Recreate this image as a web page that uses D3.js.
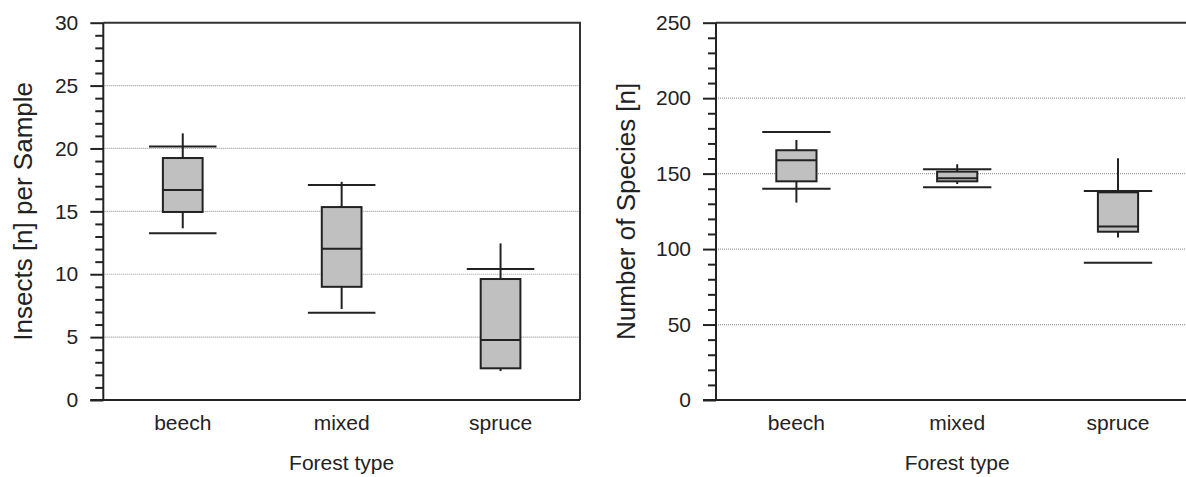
<!DOCTYPE html>
<html>
<head>
<meta charset="utf-8">
<script src="https://cdn.jsdelivr.net/npm/d3@7"></script>
<style>
    body { margin: 0; background: #fff; }
    svg { display: block; font-family: "Liberation Sans", Arial, sans-serif; }
</style>
</head>
<body>
<svg id="chart"></svg>
<script>
// categories
const forestTypes = ['beech', 'mixed', 'spruce'];

// insects per sample
const insectMin = [13.65, 7.23, 2.3];
const insectQ1 = [14.95, 9.0, 2.52];
const insectMedian = [16.7, 12.03, 4.77];
const insectQ3 = [19.24, 15.34, 9.62];
const insectMax = [21.2, 17.35, 12.45];
const insectBarLow = [13.25, 6.94, 0];
const insectBarHigh = [20.15, 17.1, 10.41];
const insectTicks = [0, 5, 10, 15, 20, 25, 30];

// number of species
const speciesMin = [130.8, 143.1, 107.6];
const speciesQ1 = [144.9, 144.9, 111.5];
const speciesMedian = [158.8, 146.9, 114.9];
const speciesQ3 = [165.5, 151.3, 137.6];
const speciesMax = [172.3, 156.2, 160.2];
const speciesBarLow = [140.0, 141.0, 91.0];
const speciesBarHigh = [177.6, 152.9, 138.5];
const speciesTicks = [0, 50, 100, 150, 200, 250];

class BoxPanel {

    constructor(_config) {
        this.config = {
            svg: _config.svg,
            left: _config.left,
            width: _config.width,
            top: _config.top || 22.7,
            height: _config.height || 377.3,
            yMax: _config.yMax,
            ticks: _config.ticks,
            minorStep: _config.minorStep,
            yLabel: _config.yLabel,
            yLabelX: _config.yLabelX,
            yLabelSize: _config.yLabelSize || 26
        };
        this.rows = _config.rows;
        this.initVis();
    }

    initVis() {
        let vis = this;
        let c = vis.config;

        vis.chart = c.svg.append('g')
            .attr('transform', `translate(${c.left},${c.top})`);

        vis.x = d3.scaleBand()
            .domain(forestTypes)
            .range([0, c.width])
            .padding(0);

        vis.y = d3.scaleLinear()
            .domain([0, c.yMax])
            .range([c.height, 0]);

        vis.render();
    }

    render() {
        let vis = this;
        let c = vis.config;

        // dotted grid
        vis.chart.selectAll('.grid')
            .data(c.ticks.filter(t => t > 0 && t < c.yMax))
            .join('line')
            .attr('class', 'grid')
            .attr('x1', 0)
            .attr('x2', c.width)
            .attr('y1', d => vis.y(d))
            .attr('y2', d => vis.y(d))
            .attr('stroke', '#9a9a9a')
            .attr('stroke-width', 1.2)
            .attr('stroke-dasharray', '1,1');

        // frame: top + right
        vis.chart.append('path')
            .attr('d', `M0,0H${c.width}V${c.height}`)
            .attr('fill', 'none')
            .attr('stroke', '#333')
            .attr('stroke-width', 2);

        // minor ticks
        let minor = d3.range(0, c.yMax + 0.001, c.minorStep)
            .filter(v => !c.ticks.includes(Math.round(v * 1000) / 1000));
        vis.chart.append('g')
            .call(d3.axisLeft(vis.y).tickValues(minor).tickSize(8).tickFormat(''))
            .call(g => g.select('.domain').remove())
            .selectAll('line')
            .attr('stroke', '#222')
            .attr('stroke-width', 2);

        // major ticks + labels
        let yAxis = vis.chart.append('g')
            .call(d3.axisLeft(vis.y).tickValues(c.ticks).tickSize(13).tickPadding(12))
            .call(g => g.select('.domain')
                .attr('d', `M0,0V${c.height}`)
                .attr('stroke', '#222')
                .attr('stroke-width', 2));
        yAxis.selectAll('line').attr('stroke', '#222').attr('stroke-width', 2);
        yAxis.selectAll('text')
            .attr('font-size', 21)
            .attr('font-family', '"Liberation Sans", Arial, sans-serif')
            .attr('fill', '#222');

        // x axis
        let xAxis = vis.chart.append('g')
            .attr('transform', `translate(0,${c.height})`)
            .call(d3.axisBottom(vis.x).tickSize(0).tickPadding(15))
            .call(g => g.select('.domain')
                .attr('d', `M-13,0H${c.width}`)
                .attr('stroke', '#222')
                .attr('stroke-width', 2));
        xAxis.selectAll('text')
            .attr('font-size', 21)
            .attr('font-family', '"Liberation Sans", Arial, sans-serif')
            .attr('fill', '#222');

        vis.chart.append('text')
            .attr('x', c.width / 2)
            .attr('y', c.height + 70)
            .attr('text-anchor', 'middle')
            .attr('font-size', 21)
            .attr('fill', '#222')
            .text('Forest type');

        c.svg.append('text')
            .attr('transform', `translate(${c.yLabelX},${c.top + c.height / 2}) rotate(-90)`)
            .attr('text-anchor', 'middle')
            .attr('dy', '0.35em')
            .attr('font-size', c.yLabelSize)
            .attr('fill', '#222')
            .text(c.yLabel);

        vis.renderBoxes();
    }

    renderBoxes() {
        let vis = this;
        let step = vis.x.step();
        let boxW = step * 0.25;
        let barW = step * 0.425;
        let cx = d => vis.x(d.type) + vis.x.bandwidth() / 2;

        let g = vis.chart.selectAll('.box')
            .data(vis.rows)
            .join('g')
            .attr('class', 'box');

        // whisker (min to max)
        g.append('line')
            .attr('x1', cx).attr('x2', cx)
            .attr('y1', d => vis.y(d.min))
            .attr('y2', d => vis.y(d.max))
            .attr('stroke', '#222')
            .attr('stroke-width', 2);

        // wide bars
        ['barLow', 'barHigh'].forEach(k => {
            g.append('line')
                .attr('x1', d => cx(d) - barW / 2)
                .attr('x2', d => cx(d) + barW / 2)
                .attr('y1', d => vis.y(d[k]))
                .attr('y2', d => vis.y(d[k]))
                .attr('stroke', '#222')
                .attr('stroke-width', 2);
        });

        g.append('rect')
            .attr('x', d => cx(d) - boxW / 2)
            .attr('width', boxW)
            .attr('y', d => vis.y(d.q3))
            .attr('height', d => vis.y(d.q1) - vis.y(d.q3))
            .attr('fill', '#c0c0c0')
            .attr('stroke', '#222')
            .attr('stroke-width', 2);

        g.append('line')
            .attr('x1', d => cx(d) - boxW / 2)
            .attr('x2', d => cx(d) + boxW / 2)
            .attr('y1', d => vis.y(d.median))
            .attr('y2', d => vis.y(d.median))
            .attr('stroke', '#222')
            .attr('stroke-width', 2);
    }
}

function makeRows(min, q1, med, q3, max, lo, hi) {
    return forestTypes.map((t, i) => ({
        type: t, min: min[i], q1: q1[i], median: med[i], q3: q3[i],
        max: max[i], barLow: lo[i], barHigh: hi[i]
    }));
}

const svg = d3.select('#chart')
    .attr('width', 1186)
    .attr('height', 477);

new BoxPanel({
    svg: svg,
    left: 103.3,
    width: 476.7,
    yMax: 30,
    ticks: insectTicks,
    minorStep: 1,
    yLabel: 'Insects [n] per Sample',
    yLabelX: 23,
    rows: makeRows(insectMin, insectQ1, insectMedian, insectQ3, insectMax, insectBarLow, insectBarHigh)
});

new BoxPanel({
    svg: svg,
    left: 716,
    width: 482.4,
    yMax: 250,
    ticks: speciesTicks,
    minorStep: 10,
    yLabel: 'Number of Species [n]',
    yLabelX: 626,
    rows: makeRows(speciesMin, speciesQ1, speciesMedian, speciesQ3, speciesMax, speciesBarLow, speciesBarHigh)
});
</script>
</body>
</html>
